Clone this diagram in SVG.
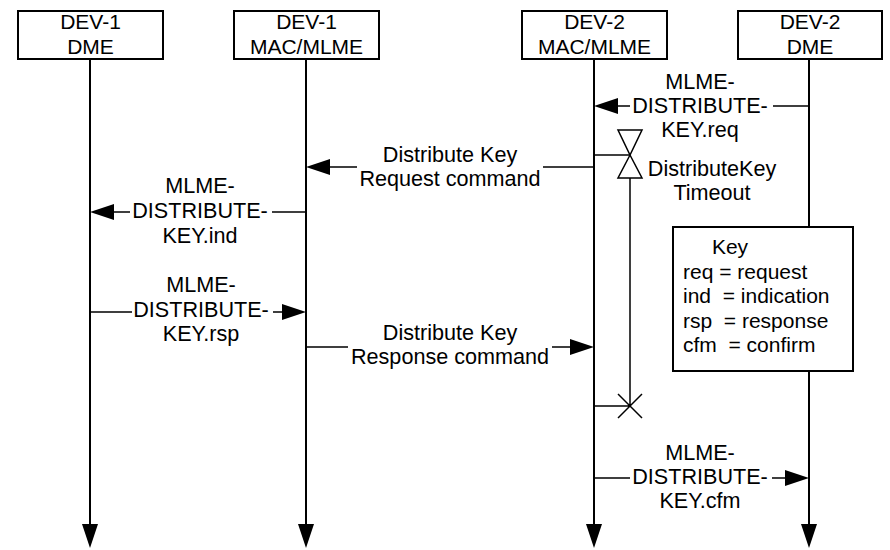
<svg xmlns="http://www.w3.org/2000/svg" width="890" height="550" viewBox="0 0 890 550">
<defs>
<marker id="ah" markerUnits="userSpaceOnUse" viewBox="0 0 24 16" refX="18" refY="8" markerWidth="24" markerHeight="16" orient="auto">
<path d="M0,0 L24,8 L0,16 z" fill="#000"/>
</marker>
</defs>
<style>
text{font-family:"Liberation Sans",Arial,sans-serif;font-size:21px;fill:#000}
.c{text-anchor:middle}
.m{font-size:21.6px}
.box{fill:#fff;stroke:#000;stroke-width:2}
.life{fill:none;stroke:#000;stroke-width:2;marker-end:url(#ah)}
.msg{fill:none;stroke:#000;stroke-width:1.5;marker-end:url(#ah)}
.ln{fill:none;stroke:#000;stroke-width:1.5}
.tm{fill:#fff;stroke:#000;stroke-width:1.5}
</style>
<rect width="890" height="550" fill="#fff"/>
<g id="lifelines">
<path class="life" d="M90,59 V542"/>
<path class="life" d="M306,59 V542"/>
<path class="life" d="M594,59 V542"/>
<path class="life" d="M809,59 V542"/>
</g>
<g id="dev1-dme">
<rect class="box" x="18" y="11" width="145" height="48"/>
<text class="c" x="90.5" y="29">DEV-1</text>
<text class="c" x="90.5" y="54">DME</text>
</g>
<g id="dev1-mac">
<rect class="box" x="234" y="11" width="145" height="48"/>
<text class="c" x="306.5" y="29">DEV-1</text>
<text class="c" x="306.5" y="54">MAC/MLME</text>
</g>
<g id="dev2-mac">
<rect class="box" x="522" y="11" width="145" height="48"/>
<text class="c" x="594.5" y="29">DEV-2</text>
<text class="c" x="594.5" y="54">MAC/MLME</text>
</g>
<g id="dev2-dme">
<rect class="box" x="738" y="11" width="144" height="48"/>
<text class="c" x="810" y="29">DEV-2</text>
<text class="c" x="810" y="54">DME</text>
</g>
<g id="connectors">
<path class="msg" d="M809,106 H773 M630,106 H600"/>
<path class="msg" d="M594,167 H543 M357,167 H312"/>
<path class="msg" d="M306,212 H272 M130,212 H96"/>
<path class="msg" d="M90,312 H132 M273,312 H300"/>
<path class="msg" d="M306,347 H348 M552,347 H588"/>
<path class="msg" d="M594,478 H630 M772,478 H803"/>
</g>
<g id="labels">
<text class="c m" x="700" y="89">MLME-</text>
<text class="c m" x="700" y="113">DISTRIBUTE-</text>
<text class="c m" x="700" y="137">KEY.req</text>
<text class="c m" x="450" y="162">Distribute Key</text>
<text class="c m" x="450" y="186">Request command</text>
<text class="c m" x="200" y="193">MLME-</text>
<text class="c m" x="200" y="218">DISTRIBUTE-</text>
<text class="c m" x="200" y="243">KEY.ind</text>
<text class="c m" x="201" y="292">MLME-</text>
<text class="c m" x="201" y="317">DISTRIBUTE-</text>
<text class="c m" x="201" y="341">KEY.rsp</text>
<text class="c m" x="450" y="340">Distribute Key</text>
<text class="c m" x="450" y="364">Response command</text>
<text class="c m" x="700" y="460">MLME-</text>
<text class="c m" x="700" y="484">DISTRIBUTE-</text>
<text class="c m" x="700" y="508">KEY.cfm</text>
</g>
<g id="timer">
<path class="ln" d="M594,155 H630"/>
<path class="tm" d="M618,130 H642 L630,155 Z"/>
<path class="tm" d="M630,155 L642,178 H618 Z"/>
<path class="ln" d="M630,178 V406 M594,406 H630 M618,394 L642,418 M642,394 L618,418"/>
<text class="c m" x="712" y="176">DistributeKey</text>
<text class="c m" x="712" y="200">Timeout</text>
</g>
<g id="key">
<rect class="box" x="673" y="227" width="180" height="144"/>
<text class="c" x="730" y="254">Key</text>
<text x="683" y="279" xml:space="preserve">req = request</text>
<text x="683" y="303" xml:space="preserve">ind  = indication</text>
<text x="683" y="328" xml:space="preserve">rsp  = response</text>
<text x="683" y="352" xml:space="preserve">cfm  = confirm</text>
</g>
</svg>
